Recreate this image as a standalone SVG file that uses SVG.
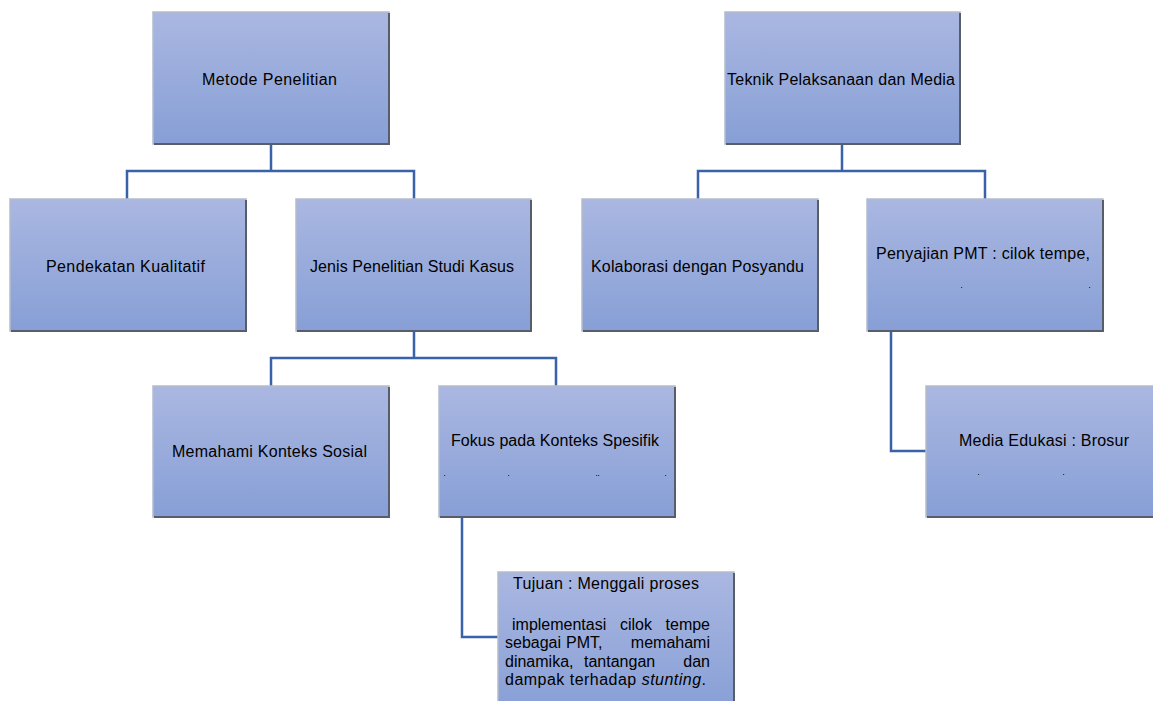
<svg xmlns="http://www.w3.org/2000/svg" width="1153" height="701" viewBox="0 0 1153 701">
<defs>
<linearGradient id="g" x1="0" y1="0" x2="0" y2="1">
<stop offset="0" stop-color="#aab7e1"/>
<stop offset="1" stop-color="#879fd6"/>
</linearGradient>
</defs>
<style>
.box{fill:url(#g);stroke:#b4bccb;stroke-width:1.5}
.sh{fill:none;stroke:#575d69;stroke-width:2}
.t{font-family:"Liberation Sans",Arial,sans-serif;font-size:16px;fill:#000}
.e{text-anchor:end}
.c{fill:none;stroke:#3a62aa;stroke-width:2.5}
.d{fill:#333}
</style>
<rect width="1153" height="701" fill="#fff"/>
<g id="connectors">
<path class="c" d="M271 144V171M127 200V171H414V200"/>
<path class="c" d="M842 144V171M698 200V171H985V200"/>
<path class="c" d="M414 331V358M271 387V358H556V387"/>
<path class="c" d="M462 517V637H499"/>
<path class="c" d="M891 331V451H927"/>
</g>
<g id="metode">
<rect class="box" x="153" y="12" width="236" height="132"/>
<path class="sh" d="M389 13V144H154"/>
<text class="t" x="202" y="85" textLength="135">Metode Penelitian</text>
</g>
<g id="teknik">
<rect class="box" x="725" y="12" width="235" height="132"/>
<path class="sh" d="M960 13V144H726"/>
<text class="t" x="727" y="85" textLength="228">Teknik Pelaksanaan dan Media</text>
</g>
<g id="pendekatan">
<rect class="box" x="10" y="199" width="236" height="132"/>
<path class="sh" d="M246 200V331H11"/>
<text class="t" x="46" y="272" textLength="159">Pendekatan Kualitatif</text>
</g>
<g id="jenis">
<rect class="box" x="296" y="199" width="235" height="132"/>
<path class="sh" d="M531 200V331H297"/>
<text class="t" x="310" y="272" textLength="204">Jenis Penelitian Studi Kasus</text>
</g>
<g id="kolaborasi">
<rect class="box" x="582" y="199" width="236" height="132"/>
<path class="sh" d="M818 200V331H583"/>
<text class="t" x="591" y="272" textLength="213">Kolaborasi dengan Posyandu</text>
</g>
<g id="penyajian">
<rect class="box" x="867" y="199" width="236" height="132"/>
<path class="sh" d="M1103 200V331H868"/>
<text class="t" x="876" y="259" textLength="214">Penyajian PMT : cilok tempe,</text>
<rect class="d" x="961" y="287" width="1.2" height="1"/>
<rect class="d" x="1089" y="287" width="1.2" height="1"/>
</g>
<g id="memahami">
<rect class="box" x="153" y="386" width="236" height="131"/>
<path class="sh" d="M389 387V517H154"/>
<text class="t" x="172" y="457" textLength="195">Memahami Konteks Sosial</text>
</g>
<g id="fokus">
<rect class="box" x="439" y="386" width="236" height="131"/>
<path class="sh" d="M675 387V517H440"/>
<text class="t" x="451" y="446" textLength="208">Fokus pada Konteks Spesifik</text>
<rect class="d" x="444" y="475" width="1.2" height="1"/>
<rect class="d" x="508" y="475" width="1.2" height="1"/>
<rect class="d" x="596" y="475" width="1.2" height="1"/>
<rect class="d" x="598" y="475" width="1.2" height="1"/>
<rect class="d" x="665" y="475" width="1.2" height="1"/>
</g>
<g id="media">
<rect class="box" x="926" y="386" width="240" height="131"/>
<path class="sh" d="M1166 517H927"/>
<text class="t" x="959" y="446" textLength="170">Media Edukasi : Brosur</text>
<rect class="d" x="978" y="474" width="1.2" height="1"/>
<rect class="d" x="1063" y="474" width="1.2" height="1"/>
</g>
<g id="tujuan">
<rect class="box" x="498" y="572" width="236" height="140"/>
<path class="sh" d="M734 573V712"/>
<text class="t" x="513" y="589" textLength="186">Tujuan : Menggali proses</text>
<text class="t" y="630"><tspan x="512">implementasi</tspan><tspan x="620">cilok</tspan></text>
<text class="t e" x="710" y="630">tempe</text>
<text class="t" y="648"><tspan x="505">sebagai</tspan><tspan x="566">PMT,</tspan></text>
<text class="t e" x="710" y="648">memahami</text>
<text class="t" y="667"><tspan x="505">dinamika,</tspan><tspan x="584">tantangan</tspan></text>
<text class="t e" x="710" y="667">dan</text>
<text class="t" y="685" x="505" textLength="201">dampak terhadap <tspan font-style="italic">stunting</tspan>.</text>
</g>
</svg>
